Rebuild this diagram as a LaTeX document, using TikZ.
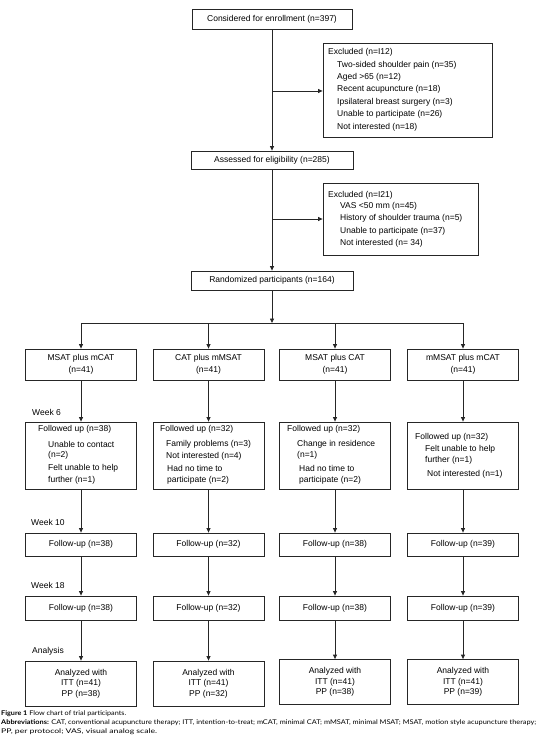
\documentclass[tikz,border=0pt]{standalone}
\usepackage{fontspec}
\setmainfont{Liberation Sans}
\newfontfamily\capfont{Lato}
\usetikzlibrary{arrows.meta}
\tikzset{
  box/.style={draw=black!85, line width=0.8pt, rectangle, inner sep=0pt, align=center,
    font=\fontsize{8.5}{12}\selectfont},
  anabox/.style={box, font=\fontsize{8.5}{10.5}\selectfont},
  txt/.style={anchor=west, inner sep=0pt, font=\fontsize{8.5}{12}\selectfont},
  captxt/.style={anchor=west, inner sep=0pt, font=\capfont\fontsize{6.5}{8}\selectfont},
  arr/.style={draw=black!85, line width=0.8pt, -{Triangle[length=4.5pt,width=4pt]}},
  ln/.style={draw=black!85, line width=0.8pt}
}
\begin{document}
\begin{tikzpicture}[x=1pt,y=-1pt]
\useasboundingbox (0,0) rectangle (545,746);
% top boxes
\node[box, minimum width=160pt, minimum height=20pt] (cons) at (272,19) {Considered for enrollment (n=397)};
\node[box, minimum width=169pt, minimum height=94pt] (exc1) at (407.5,90) {};
\node[box, minimum width=162pt, minimum height=18pt] (assess) at (272,160) {Assessed for eligibility (n=285)};
\node[box, minimum width=155pt, minimum height=72pt] (exc2) at (400.5,219) {};
\node[box, minimum width=162pt, minimum height=19pt] (rand) at (272,280.5) {Randomized participants (n=164)};
% excluded texts
\node[txt] (e1a) at (328,52.7) {Excluded (n=I12)};
\node[txt] (e1b) at (337,65) {Two-sided shoulder pain (n=35)};
\node[txt] (e1c) at (337,77.4) {Aged >65 (n=12)};
\node[txt] (e1d) at (337,89.8) {Recent acupuncture (n=18)};
\node[txt] (e1e) at (337,102.2) {Ipsilateral breast surgery (n=3)};
\node[txt] (e1f) at (337,114.6) {Unable to participate (n=26)};
\node[txt] (e1g) at (337,127) {Not interested (n=18)};
\node[txt] (e2a) at (328,195) {Excluded (n=I21)};
\node[txt] (e2b) at (340,206.5) {VAS <50 mm (n=45)};
\node[txt] (e2c) at (340,218.5) {History of shoulder trauma (n=5)};
\node[txt] (e2d) at (340,231) {Unable to participate (n=37)};
\node[txt] (e2e) at (340,243) {Not interested (n= 34)};
% spine
\coordinate (j1) at (272,91);
\coordinate (j2) at (272,219);
\coordinate (hub) at (272,323);
\draw[arr] (cons.south) -- (assess.north);
\draw[arr] (j1) -- (j1 -| exc1.west);
\draw[arr] (assess.south) -- (rand.north);
\draw[arr] (j2) -- (j2 -| exc2.west);
\draw[arr] (rand.south) -- (hub);
% group row
\foreach \i/\cx/\lab in {1/81/{MSAT plus mCAT},2/208.5/{CAT plus mMSAT},3/335/{MSAT plus CAT},4/463/{mMSAT plus mCAT}}{
  \node[box, minimum width=111pt, minimum height=31pt] (g\i) at (\cx,364.5) {\lab\\(n=41)};
  \node[box, minimum width=111pt, minimum height=67pt] (f\i) at (\cx,455.5) {};
  \coordinate (h\i) at (\cx,323);
}
\draw[ln] (h1) -- (h4);
\foreach \i in {1,2,3,4}{\draw[arr] (h\i) -- (g\i.north); \draw[arr] (g\i.south) -- (f\i.north);}
\node[box, minimum width=111pt, minimum height=23pt] (t1) at (81,544.5) {Follow-up (n=38)};
\node[box, minimum width=111pt, minimum height=23pt] (t2) at (208.5,544.5) {Follow-up (n=32)};
\node[box, minimum width=111pt, minimum height=23pt] (t3) at (335,544.5) {Follow-up (n=38)};
\node[box, minimum width=111pt, minimum height=23pt] (t4) at (463,544.5) {Follow-up (n=39)};
\node[box, minimum width=111pt, minimum height=24pt] (s1) at (81,608) {Follow-up (n=38)};
\node[box, minimum width=111pt, minimum height=24pt] (s2) at (208.5,608) {Follow-up (n=32)};
\node[box, minimum width=111pt, minimum height=24pt] (s3) at (335,608) {Follow-up (n=38)};
\node[box, minimum width=111pt, minimum height=24pt] (s4) at (463,608) {Follow-up (n=39)};
\node[anabox, minimum width=111pt, minimum height=45pt] (a1) at (81,683.5) {Analyzed with\\ITT (n=41)\\PP (n=38)};
\node[anabox, minimum width=111pt, minimum height=45pt] (a2) at (208.5,683.5) {Analyzed with\\ITT (n=41)\\PP (n=32)};
\node[anabox, minimum width=111pt, minimum height=45pt] (a3) at (335,682) {Analyzed with\\ITT (n=41)\\PP (n=38)};
\node[anabox, minimum width=111pt, minimum height=45pt] (a4) at (463,682) {Analyzed with\\ITT (n=41)\\PP (n=39)};
\foreach \i in {1,2,3,4}{\draw[arr] (f\i.south) -- (t\i.north); \draw[arr] (t\i.south) -- (s\i.north); \draw[arr] (s\i.south) -- (a\i.north);}
% week labels
\node[txt] (wk6) at (32,412) {Week 6};
\node[txt] (wk10) at (31,522) {Week 10};
\node[txt] (wk18) at (31,585) {Week 18};
\node[txt] (anl) at (32,651) {Analysis};
% followed-up texts
\node[txt] (f1a) at (38,429) {Followed up (n=38)};
\node[txt] (f1b) at (48,444) {Unable to contact};
\node[txt] (f1c) at (48,455.5) {(n=2)};
\node[txt] (f1d) at (48,468) {Felt unable to help};
\node[txt] (f1e) at (48,480) {further (n=1)};
\node[txt] (f2a) at (160,429) {Followed up (n=32)};
\node[txt] (f2b) at (166,444) {Family problems (n=3)};
\node[txt] (f2c) at (166,456) {Not interested (n=4)};
\node[txt] (f2d) at (167,468) {Had no time to};
\node[txt] (f2e) at (167,480) {participate (n=2)};
\node[txt] (f3a) at (287,429) {Followed up (n=32)};
\node[txt] (f3b) at (297,444) {Change in residence};
\node[txt] (f3c) at (297,455.5) {(n=1)};
\node[txt] (f3d) at (299,468) {Had no time to};
\node[txt] (f3e) at (299,480) {participate (n=2)};
\node[txt] (f4a) at (415,437) {Followed up (n=32)};
\node[txt] (f4b) at (425,449) {Felt unable to help};
\node[txt] (f4c) at (425,460.5) {further (n=1)};
\node[txt] (f4d) at (427,474) {Not interested (n=1)};
% caption
\node[captxt] (c1) at (1,714) {\resizebox{125pt}{\height}{\textbf{Figure 1} Flow chart of trial participants.}};
\node[captxt] (c2) at (1,723) {\resizebox{535pt}{\height}{\textbf{Abbreviations:} CAT, conventional acupuncture therapy; ITT, intention-to-treat; mCAT, minimal CAT; mMSAT, minimal MSAT; MSAT, motion style acupuncture therapy;}};
\node[captxt] (c3) at (1,732) {\resizebox{156pt}{\height}{PP, per protocol; VAS, visual analog scale.}};
\end{tikzpicture}
\end{document}
